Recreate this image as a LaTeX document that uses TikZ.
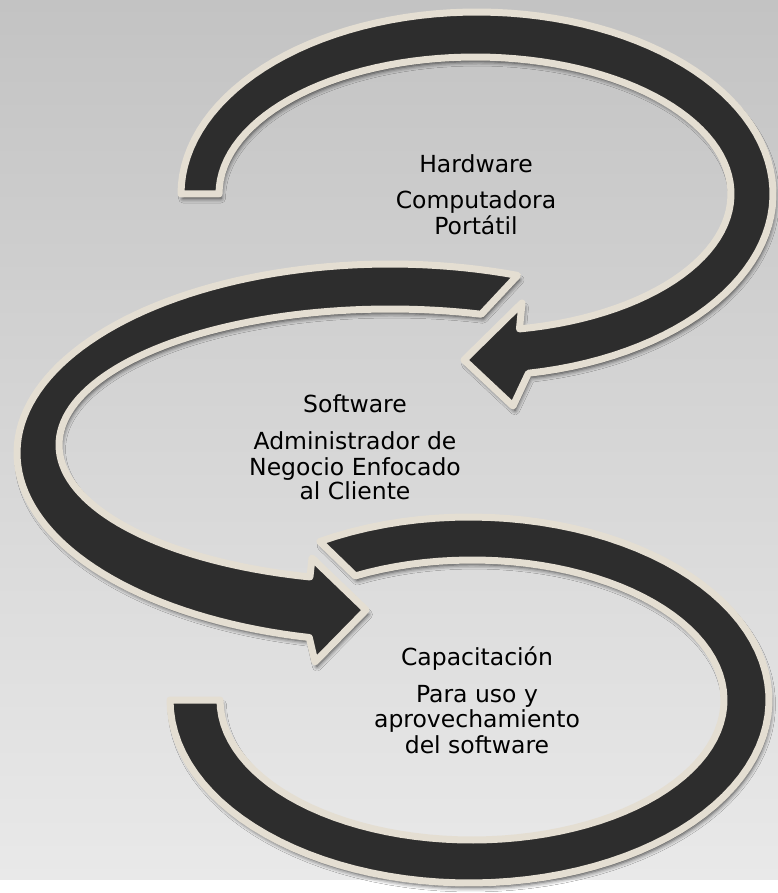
\documentclass[tikz,border=0pt]{standalone}
\usepackage{fontspec}
\setmainfont{DejaVu Sans}
\usetikzlibrary{shadows.blur}
\definecolor{arrowdark}{HTML}{2D2D2D}
\definecolor{rimbeige}{HTML}{E4DED2}
\definecolor{bgtop}{HTML}{C3C3C3}
\definecolor{bgbot}{HTML}{E9E9E9}
\tikzset{
  arrowshape/.style={fill=arrowdark, draw=rimbeige, line width=7pt, line join=round,
    blur shadow={shadow xshift=2pt, shadow yshift=-4.5pt, shadow blur radius=4.5pt, shadow opacity=75}},
  lbl/.style={anchor=base, inner sep=0pt, text=black, font=\fontsize{23.5}{26}\selectfont}
}
\begin{document}
\begin{tikzpicture}[x=1pt, y=-1pt]
\useasboundingbox (0,0) rectangle (778,893);
% background
\shade[top color=bgtop, bottom color=bgbot] (0,0) rectangle (778,880);
\fill[white] (0,880) rectangle (778,893);

% top arrow (Hardware)
\draw[arrowshape]
  plot[domain=180:440, samples=90, variable=\t] ({477+296*cos(\t)}, {194+182*sin(\t)})
  -- (513,406) -- (464,360) -- (522,303)
  -- plot[domain=440:180, samples=90, variable=\t] ({475+256*cos(\t)}, {194+137*sin(\t)})
  -- cycle;

% middle arrow (Software)
\draw[arrowshape]
  plot[domain=290:102.5, samples=90, variable=\t] ({390+373*cos(\t)}, {453+189*sin(\t)})
  -- (315,662) -- (366,610) -- (312,558)
  -- plot[domain=104:286, samples=90, variable=\t] ({390+331*cos(\t)}, {445+136*sin(\t)})
  -- cycle;

% bottom arrow (Capacitacion)
\draw[arrowshape]
  plot[domain=180:-120, samples=90, variable=\t] ({469.5+299.5*cos(\t)}, {700+183*sin(\t)})
  -- plot[domain=-117.6:180, samples=90, variable=\t] ({472+252*cos(\t)}, {700+140*sin(\t)})
  -- cycle;

% texts
\node[lbl] (hw)  at (476,173) {Hardware};
\node[lbl] (hw1) at (476,209) {Computadora};
\node[lbl] (hw2) at (476,235) {Portátil};

\node[lbl] (sw)  at (355,412) {Software};
\node[lbl] (sw1) at (355,449) {Administrador de};
\node[lbl] (sw2) at (355,475) {Negocio Enfocado};
\node[lbl] (sw3) at (355,499) {al Cliente};

\node[lbl] (cp)  at (477,665) {Capacitación};
\node[lbl] (cp1) at (477,702) {Para uso y};
\node[lbl] (cp2) at (477,727) {aprovechamiento};
\node[lbl] (cp3) at (477,753) {del software};
\end{tikzpicture}
\end{document}
